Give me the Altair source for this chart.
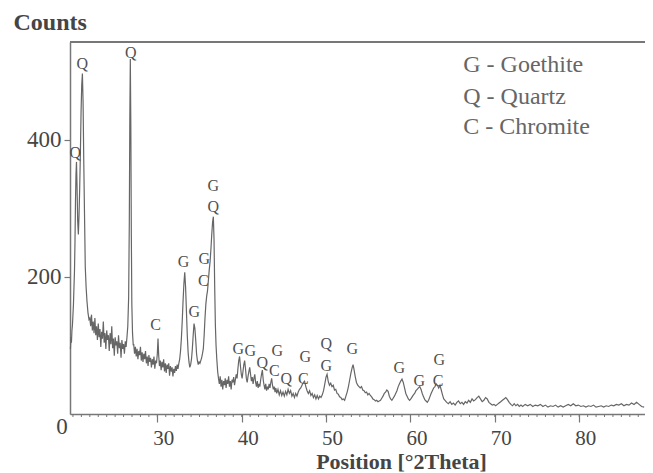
import altair as alt
import pandas as pd

# ---- diffraction pattern: [2theta, counts] ----
seg_quartz_doublet = [
    [19.70, 95], [19.76, 112], [19.82, 104], [19.88, 122], [19.94, 130], [20.00, 145],
    [20.06, 160], [20.12, 185], [20.18, 208], [20.24, 250], [20.30, 310], [20.36, 350],
    [20.42, 368], [20.48, 335], [20.56, 282], [20.64, 262], [20.72, 290], [20.80, 330],
    [20.88, 380], [20.96, 440], [21.04, 480], [21.12, 497], [21.20, 455], [21.28, 370],
    [21.36, 300], [21.46, 215], [21.56, 185], [21.66, 165], [21.78, 148], [21.90, 138],
]
seg_before_quartz = [
    [22.0, 140], [22.1, 128], [22.2, 145], [22.3, 122], [22.4, 135], [22.5, 118],
    [22.6, 140], [22.7, 115], [22.8, 128], [22.9, 108], [23.0, 132], [23.1, 112],
    [23.2, 124], [23.3, 98], [23.4, 120], [23.5, 110], [23.6, 135], [23.7, 104],
    [23.8, 118], [23.9, 95], [24.0, 122], [24.1, 108], [24.2, 115], [24.3, 92],
    [24.4, 118], [24.5, 102], [24.6, 128], [24.7, 96], [24.8, 110], [24.9, 85],
    [25.0, 112], [25.1, 100], [25.2, 106], [25.3, 88], [25.4, 115], [25.5, 96],
    [25.6, 104], [25.7, 82], [25.8, 108], [25.9, 95], [26.0, 102], [26.1, 88],
    [26.2, 106], [26.3, 98], [26.4, 112], [26.5, 128], [26.6, 170], [26.68, 280],
    [26.74, 430], [26.80, 518], [26.86, 420], [26.92, 260], [26.98, 160], [27.06, 118],
    [27.15, 100],
]
seg_middle = [
    [27.2, 102], [27.3, 88], [27.4, 98], [27.5, 84], [27.6, 95], [27.7, 80],
    [27.8, 92], [27.9, 86], [28.0, 98], [28.1, 78], [28.2, 90], [28.3, 76],
    [28.4, 88], [28.5, 80], [28.6, 92], [28.7, 74], [28.8, 84], [28.9, 70],
    [29.0, 86], [29.1, 76], [29.2, 82], [29.3, 68], [29.4, 80], [29.5, 72],
    [29.6, 84], [29.7, 66], [29.8, 78], [29.9, 74], [30.0, 88], [30.08, 110],
    [30.16, 86], [30.25, 70], [30.35, 78], [30.45, 64], [30.55, 76], [30.65, 68],
    [30.75, 80], [30.85, 62], [30.95, 74], [31.05, 60], [31.15, 72], [31.25, 66],
    [31.35, 74], [31.45, 56], [31.55, 70], [31.65, 62], [31.75, 68], [31.85, 55],
    [31.95, 66], [32.05, 60], [32.15, 70], [32.25, 63], [32.35, 72], [32.45, 66],
    [32.55, 74], [32.65, 80], [32.75, 92], [32.85, 110], [32.95, 135], [33.05, 165],
    [33.15, 190], [33.25, 207], [33.35, 185], [33.45, 150], [33.55, 115], [33.65, 90],
    [33.75, 76], [33.85, 68], [33.95, 72], [34.05, 80], [34.15, 95], [34.25, 115],
    [34.35, 132], [34.45, 125], [34.55, 108], [34.65, 88], [34.75, 78], [34.85, 72],
    [34.95, 76], [35.05, 74], [35.15, 78], [35.25, 82], [35.35, 88], [35.45, 95],
    [35.55, 115], [35.65, 140], [35.75, 160], [35.85, 172], [35.95, 180], [36.05, 195],
    [36.15, 210], [36.25, 222], [36.35, 240], [36.45, 262], [36.55, 280], [36.64, 288],
    [36.72, 255], [36.80, 185], [36.88, 130], [36.96, 100], [37.05, 80], [37.15, 62],
    [37.25, 52],
]
seg_high_angle = [
    [37.35, 44], [37.45, 55], [37.55, 40], [37.65, 50], [37.75, 36], [37.85, 48],
    [37.95, 42], [38.05, 52], [38.15, 38], [38.25, 50], [38.35, 44], [38.45, 55],
    [38.55, 40], [38.65, 48], [38.75, 36], [38.85, 50], [38.95, 46], [39.05, 54],
    [39.15, 42], [39.25, 50], [39.35, 58], [39.45, 52], [39.55, 66], [39.65, 78],
    [39.75, 84], [39.85, 70], [39.95, 58], [40.05, 52], [40.15, 62], [40.25, 72],
    [40.35, 78], [40.45, 66], [40.55, 52], [40.65, 46], [40.75, 55], [40.85, 62],
    [40.95, 68], [41.05, 58], [41.15, 48], [41.25, 54], [41.35, 44], [41.45, 52],
    [41.55, 58], [41.65, 46], [41.75, 40], [41.85, 48], [41.95, 38], [42.05, 44],
    [42.15, 40], [42.25, 50], [42.35, 58], [42.45, 64], [42.55, 50], [42.65, 42],
    [42.75, 36], [42.85, 44], [42.95, 34], [43.05, 40], [43.15, 36], [43.25, 44],
    [43.35, 38], [43.45, 46], [43.55, 52], [43.65, 42], [43.75, 36], [43.85, 40],
    [43.95, 32], [44.05, 38], [44.15, 30], [44.3, 36], [44.45, 28], [44.6, 34],
    [44.75, 27], [44.9, 32], [45.05, 26], [45.2, 33], [45.35, 28], [45.5, 36],
    [45.65, 30], [45.8, 34], [45.95, 26], [46.1, 30], [46.25, 24], [46.4, 30],
    [46.55, 26], [46.7, 32], [46.85, 36], [47.0, 38], [47.15, 42], [47.3, 46],
    [47.45, 48], [47.6, 40], [47.75, 34], [47.9, 30], [48.05, 34], [48.2, 27],
    [48.35, 30], [48.5, 24], [48.65, 28], [48.8, 22], [48.95, 27], [49.1, 22],
    [49.25, 26], [49.4, 24], [49.55, 28], [49.7, 34], [49.85, 44], [50.0, 54],
    [50.12, 58], [50.25, 48], [50.4, 42], [50.55, 45], [50.7, 40], [50.85, 42],
    [51.0, 35], [51.15, 36], [51.3, 30], [51.45, 29], [51.6, 25], [51.75, 24],
    [51.9, 21], [52.05, 22], [52.2, 20], [52.35, 26], [52.5, 32], [52.65, 40],
    [52.8, 50], [52.95, 60], [53.1, 68], [53.2, 72], [53.3, 66], [53.45, 55],
    [53.6, 46], [53.75, 42], [53.9, 40], [54.05, 38], [54.2, 40], [54.35, 35],
    [54.5, 34], [54.65, 31], [54.8, 32], [54.95, 28], [55.1, 30], [55.25, 27],
    [55.4, 25], [55.55, 22], [55.7, 21], [55.85, 19], [56.0, 20], [56.15, 18],
    [56.3, 19], [56.45, 20], [56.6, 23], [56.75, 26], [56.9, 30], [57.05, 32],
    [57.2, 35], [57.35, 33], [57.5, 26], [57.65, 22], [57.8, 20], [57.95, 23],
    [58.1, 26], [58.25, 30], [58.4, 34], [58.55, 40], [58.7, 44], [58.85, 48],
    [59.0, 51], [59.15, 46], [59.3, 38], [59.45, 30], [59.6, 26], [59.75, 22],
    [59.9, 20], [60.05, 22], [60.2, 25], [60.35, 28], [60.5, 30], [60.65, 34],
    [60.8, 36], [60.95, 38], [61.1, 40], [61.25, 36], [61.4, 30], [61.55, 25],
    [61.7, 21], [61.85, 19], [62.0, 17], [62.15, 20], [62.3, 25], [62.45, 30],
    [62.6, 34], [62.75, 38], [62.9, 40], [63.05, 44], [63.2, 42], [63.35, 38],
    [63.5, 42], [63.65, 35], [63.8, 28], [63.95, 22], [64.1, 20], [64.3, 17],
]
seg_tail = [
    [64.5, 15], [64.7, 18], [64.9, 14], [65.1, 16], [65.3, 13], [65.5, 17],
    [65.7, 19], [65.9, 15], [66.1, 17], [66.3, 14], [66.5, 18], [66.7, 16],
    [66.9, 20], [67.1, 17], [67.3, 22], [67.5, 19], [67.7, 21], [67.9, 24],
    [68.1, 26], [68.3, 22], [68.5, 18], [68.7, 20], [68.9, 24], [69.1, 22],
    [69.3, 17], [69.5, 15], [69.7, 13], [69.9, 14], [70.1, 12], [70.3, 14],
    [70.5, 16], [70.7, 18], [70.9, 20], [71.1, 22], [71.3, 24], [71.5, 21],
    [71.7, 17], [71.9, 14], [72.1, 12], [72.3, 15], [72.5, 12], [72.7, 14],
    [72.9, 11], [73.1, 13], [73.3, 11], [73.6, 14], [73.9, 12], [74.2, 14],
    [74.5, 11], [74.8, 13], [75.1, 12], [75.4, 14], [75.7, 11], [76.0, 13],
    [76.3, 10], [76.6, 12], [76.9, 11], [77.2, 13], [77.5, 10], [77.8, 12],
    [78.1, 10], [78.4, 12], [78.7, 14], [79.0, 12], [79.3, 15], [79.6, 12],
    [79.9, 13], [80.2, 11], [80.5, 12], [80.8, 10], [81.1, 12], [81.4, 11],
    [81.7, 13], [82.0, 10], [82.3, 11], [82.6, 12], [82.9, 10], [83.2, 12],
    [83.5, 11], [83.8, 13], [84.1, 12], [84.4, 14], [84.7, 13], [85.0, 15],
    [85.3, 12], [85.6, 14], [85.9, 13], [86.2, 16], [86.5, 14], [86.8, 17],
    [87.1, 14], [87.4, 11], [87.7, 10],
]

# ---- phase labels placed over peaks ----
peak_letters = ["Q", "Q", "Q", "C", "G", "G", "C", "G", "G", "Q",
                "G", "G", "Q", "C", "G", "Q", "G", "C", "Q", "G",
                "G", "G", "G", "C", "G"]
peak_x = [20.28, 21.11, 26.85, 29.8, 33.1, 34.38, 35.45, 35.57, 36.64, 36.64,
          39.6, 41.02, 42.44, 43.86, 44.22, 45.28, 47.54, 47.30, 50.02, 50.02,
          53.10, 58.67, 61.04, 63.29, 63.41]
peak_y = [381, 511, 527, 130, 222, 149, 194, 226, 333, 302,
          95, 92, 74, 63, 92, 51, 83, 51, 102, 70,
          95, 67, 48, 48, 79]

legend_text = ["G - Goethite", "Q - Quartz", "C - Chromite"]
legend_x = [66.26, 66.26, 66.26]
legend_y = [509, 463, 419]

x_major = [30, 40, 50, 60, 70, 80]
x_minor = [20, 21, 22, 23, 24, 25, 26, 27, 28, 29, 30, 31, 32, 33, 34, 35, 36, 37, 38, 39,
           40, 41, 42, 43, 44, 45, 46, 47, 48, 49, 50, 51, 52, 53, 54, 55, 56, 57, 58, 59,
           60, 61, 62, 63, 64, 65, 66, 67, 68, 69, 70, 71, 72, 73, 74, 75, 76, 77, 78, 79,
           80, 81, 82, 83, 84, 85, 86, 87]
y_major = [200, 400]
x_domain = [19.65, 87.8]
y_domain = [0, 543]

FONT = "Liberation Serif"
AX = "#777777"
TXT = "#454545"
W, H = 575, 372

rows = seg_quartz_doublet + seg_before_quartz + seg_middle + seg_high_angle + seg_tail
df = pd.DataFrame(rows, columns=["t", "c"])
peaks = pd.DataFrame({"letter": peak_letters, "t": peak_x, "c": peak_y})
leg = pd.DataFrame({"label": legend_text, "t": legend_x, "c": legend_y})
zero = pd.DataFrame({"t": [x_domain[0]], "c": [0], "txt": ["0"]})
minor_df = pd.DataFrame({"t": x_minor})

xs = alt.Scale(domain=x_domain, nice=False, zero=False)
ys = alt.Scale(domain=y_domain, nice=False)

x_axis = alt.Axis(
    orient="bottom", values=x_major, tickSize=8, tickColor=AX, tickWidth=1.2,
    domainColor=AX, domainWidth=1.5, grid=False,
    labelFont=FONT, labelFontSize=21, labelColor=TXT, labelOffset=6,
    labelBaseline="middle", labelPadding=16,
    title="Position [°2Theta]", titleFont=FONT, titleFontSize=22,
    titleFontWeight="bold", titleColor=TXT, titleX=331, titleY=47,
    titleBaseline="middle", titleAlign="center")
y_axis = alt.Axis(
    orient="left", values=y_major, tickSize=6, tickColor=AX, tickWidth=1.2,
    domainColor=AX, domainWidth=1.5, grid=False,
    labelFont=FONT, labelFontSize=23, labelColor=TXT, labelPadding=3,
    labelBaseline="middle",
    title="Counts", titleFont=FONT, titleFontSize=24, titleFontWeight="bold",
    titleColor=TXT, titleAngle=0, titleAlign="left", titleBaseline="middle",
    titleX=-57, titleY=-20)

X = alt.X("t:Q", scale=xs, axis=x_axis)
Y = alt.Y("c:Q", scale=ys, axis=y_axis)

line = alt.Chart(df).mark_line(color="#666666", strokeWidth=1.2).encode(x=X, y=Y)

minor = alt.Chart(minor_df).mark_rule(color=AX, strokeWidth=1).encode(
    x=X, y=alt.value(H), y2=alt.value(H + 3))

frame_top = alt.Chart(minor_df).mark_rule(color=AX, strokeWidth=1.5).encode(
    x=alt.value(0), x2=alt.value(W), y=alt.value(0))

peak_text = alt.Chart(peaks).mark_text(
    font=FONT, fontSize=16, color="#505050", align="center", baseline="middle").encode(
    x=X, y=Y, text="letter:N")

legend_marks = alt.Chart(leg).mark_text(
    font=FONT, fontSize=24, color="#666666", align="left", baseline="middle").encode(
    x=X, y=Y, text="label:N")

zero_label = alt.Chart(zero).mark_text(
    font=FONT, fontSize=23, color=TXT, align="center", baseline="middle",
    dx=-8, dy=13).encode(x=X, y=Y, text="txt:N")

chart = alt.layer(line, minor, frame_top, peak_text, legend_marks, zero_label).properties(
    width=W, height=H,
    autosize=alt.AutoSizeParams(type="none"),
    padding={"left": 62, "top": 34, "right": 0, "bottom": 58},
).configure_view(stroke=None).configure(background="white")

chart.save("out.html", embed_options={"renderer": "svg", "actions": False})
